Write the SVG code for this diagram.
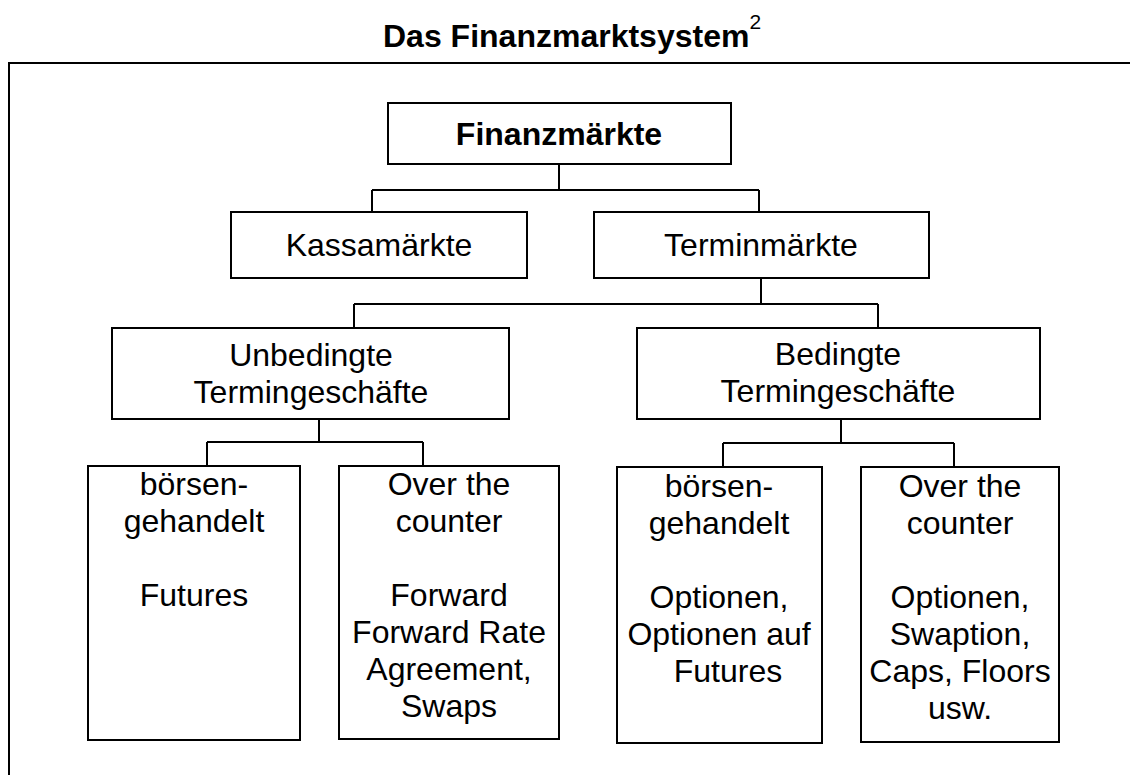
<svg xmlns="http://www.w3.org/2000/svg" width="1130" height="775" viewBox="0 0 1130 775">
<style>
  text { font-family: "Liberation Sans", Arial, sans-serif; font-size: 32px; fill: #000; text-anchor: middle; }
  .title { font-weight: bold; text-anchor: start; }
  .bold { font-weight: bold; }
  .box { fill: #fff; stroke: #000; stroke-width: 2; }
  .conn { fill: none; stroke: #000; stroke-width: 2; }
</style>
<rect x="0" y="0" width="1130" height="775" fill="#fff"/>
<text class="title" x="383" y="47">Das Finanzmarktsystem<tspan font-size="21" font-weight="normal" dy="-18">2</tspan></text>
<path class="conn" d="M9,776 V63 H1131"/>
<g id="connectors">
  <path class="conn" d="M559,164 V190 M372,190 H759 M372,190 V212 M759,190 V212"/>
  <path class="conn" d="M761,278 V304 M354,304 H878 M354,304 V328 M878,304 V328"/>
  <path class="conn" d="M319,419 V442 M207,442 H423 M207,442 V466 M423,442 V466"/>
  <path class="conn" d="M841,419 V443 M723,443 H954 M723,443 V467 M954,443 V467"/>
</g>
<g id="finanzmaerkte">
  <rect class="box" x="388" y="103" width="343" height="61"/>
  <text class="bold" x="559" y="145">Finanzmärkte</text>
</g>
<g id="kassamaerkte">
  <rect class="box" x="231" y="212" width="296" height="66"/>
  <text x="379" y="256">Kassamärkte</text>
</g>
<g id="terminmaerkte">
  <rect class="box" x="594" y="212" width="335" height="66"/>
  <text x="761" y="256">Terminmärkte</text>
</g>
<g id="unbedingte">
  <rect class="box" x="112" y="328" width="397" height="91"/>
  <text x="311" y="366">Unbedingte</text>
  <text x="311" y="403">Termingeschäfte</text>
</g>
<g id="bedingte">
  <rect class="box" x="637" y="328" width="403" height="91"/>
  <text x="838" y="365">Bedingte</text>
  <text x="838" y="402">Termingeschäfte</text>
</g>
<g id="ub-boerse">
  <rect class="box" x="88" y="466" width="212" height="274"/>
  <text x="194" y="495">börsen-</text>
  <text x="194" y="532">gehandelt</text>
  <text x="194" y="606">Futures</text>
</g>
<g id="ub-otc">
  <rect class="box" x="339" y="466" width="220" height="273"/>
  <text x="449" y="495">Over the</text>
  <text x="449" y="532">counter</text>
  <text x="449" y="606">Forward</text>
  <text x="449" y="643">Forward Rate</text>
  <text x="449" y="680">Agreement,</text>
  <text x="449" y="717">Swaps</text>
</g>
<g id="b-boerse">
  <rect class="box" x="617" y="467" width="205" height="276"/>
  <text x="719" y="497">börsen-</text>
  <text x="719" y="534">gehandelt</text>
  <text x="719" y="608">Optionen,</text>
  <text x="719" y="645">Optionen auf</text>
  <text x="728" y="682">Futures</text>
</g>
<g id="b-otc">
  <rect class="box" x="861" y="467" width="198" height="275"/>
  <text x="960" y="497">Over the</text>
  <text x="960" y="534">counter</text>
  <text x="960" y="608">Optionen,</text>
  <text x="960" y="645">Swaption,</text>
  <text x="960" y="682">Caps, Floors</text>
  <text x="960" y="719">usw.</text>
</g>
</svg>
